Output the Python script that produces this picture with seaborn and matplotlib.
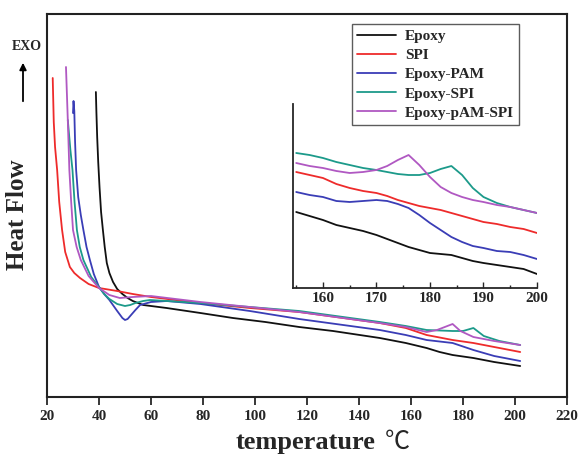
import numpy as np
import pandas as pd
import matplotlib
matplotlib.use('Agg')
import matplotlib.pyplot as plt
import seaborn as sns

# DSC heat flow curves (arbitrary units)
epoxy_t = [38.8, 39.0, 39.3, 39.7, 40.2, 40.8, 41.5, 42.2, 43, 44, 45.4, 47, 49, 51, 53, 57, 66, 79, 91.5, 104, 117, 130, 148, 158, 166, 171, 176, 184, 192, 202]
epoxy_y = [30.5, 28.5, 26.0, 23.5, 21.0, 18.5, 16.7, 15.0, 13.4, 12.4, 11.5, 10.8, 10.3, 9.9, 9.6, 9.2, 8.9, 8.4, 7.9, 7.5, 7.0, 6.6, 5.9, 5.4, 4.9, 4.5, 4.2, 3.9, 3.5, 3.1]

spi_t = [22.2, 22.6, 23.1, 23.9, 24.7, 25.8, 27, 28.8, 30.5, 32.7, 36, 40, 47, 53, 60, 79, 98, 117, 148, 158, 166, 176, 184, 192, 202]
spi_y = [31.9, 27.5, 25.0, 22.7, 19.5, 16.7, 14.5, 13.0, 12.4, 11.9, 11.3, 10.9, 10.6, 10.3, 10.0, 9.4, 8.9, 8.5, 7.4, 6.9, 6.2, 5.7, 5.4, 5.0, 4.5]

pam_t = [30.0, 30.2, 30.5, 30.8, 31.2, 32.0, 33.0, 34, 35.2, 36.5, 38, 40, 42, 44, 47, 49, 50, 51, 52, 54, 55.8, 60, 66, 79, 98, 117, 148, 158, 166, 176, 184, 192, 202]
pam_y = [28.4, 29.6, 28.6, 25.5, 22.7, 20.0, 18.2, 16.7, 15.0, 13.7, 12.3, 11.0, 10.3, 9.7, 8.6, 7.9, 7.7, 7.8, 8.1, 8.7, 9.2, 9.5, 9.6, 9.3, 8.6, 7.8, 6.7, 6.2, 5.7, 5.4, 4.7, 4.1, 3.6]

esp_t = [28.0, 29, 29.8, 30.6, 31.5, 32.6, 34, 37, 40, 42, 44, 47, 50, 52, 54, 57, 59.6, 79, 98, 117, 148, 158, 166, 176, 180, 184, 188, 194, 202]
esp_y = [27.7, 24.7, 22.7, 19.5, 16.7, 15.0, 13.7, 12.0, 11.0, 10.3, 9.8, 9.3, 9.1, 9.2, 9.4, 9.6, 9.7, 9.4, 9.0, 8.6, 7.5, 7.1, 6.7, 6.6, 6.6, 6.9, 6.1, 5.6, 5.2]

epa_t = [27.3, 28.0, 28.6, 29.3, 30, 31.4, 33, 36, 40, 44, 48, 53, 60, 79, 98, 117, 148, 158, 166, 170, 173, 176, 179, 184, 192, 202]
epa_y = [33.0, 27.7, 22.7, 19.5, 16.7, 15.0, 13.7, 12.1, 10.9, 10.2, 9.9, 10.0, 10.1, 9.5, 9.0, 8.5, 7.4, 7.0, 6.5, 6.7, 7.0, 7.3, 6.6, 6.0, 5.6, 5.2]

# zoomed region 155-200 C
inset_t = [155, 157.5, 160, 162.5, 165, 167.5, 170, 172, 174, 176, 178, 180, 182, 184, 186, 188, 190, 192.5, 195, 197.5, 200]
inset_epoxy = [7.6, 7.2, 6.8, 6.3, 6.0, 5.7, 5.3, 4.9, 4.5, 4.1, 3.8, 3.5, 3.4, 3.3, 3.0, 2.7, 2.5, 2.3, 2.1, 1.9, 1.4]
inset_spi = [11.6, 11.3, 11.0, 10.4, 10.0, 9.7, 9.5, 9.2, 8.8, 8.5, 8.2, 8.0, 7.8, 7.5, 7.2, 6.9, 6.6, 6.4, 6.1, 5.9, 5.5]
inset_pam = [9.6, 9.3, 9.1, 8.7, 8.6, 8.7, 8.8, 8.7, 8.4, 8.0, 7.3, 6.5, 5.8, 5.1, 4.6, 4.2, 4.0, 3.7, 3.6, 3.3, 2.9]
inset_esp = [13.5, 13.3, 13.0, 12.6, 12.3, 12.0, 11.8, 11.6, 11.4, 11.3, 11.3, 11.5, 11.9, 12.2, 11.3, 10.0, 9.1, 8.5, 8.1, 7.8, 7.5]
inset_epa = [12.5, 12.2, 12.0, 11.7, 11.5, 11.6, 11.8, 12.2, 12.8, 13.3, 12.3, 11.1, 10.1, 9.5, 9.1, 8.8, 8.6, 8.3, 8.1, 7.8, 7.5]

labels = ['Epoxy', 'SPI', 'Epoxy-PAM', 'Epoxy-SPI', 'Epoxy-pAM-SPI']
colors = ['#111111', '#ee2b2b', '#3a3db6', '#1c9a8a', '#b058c2']

sns.set_style('ticks')
plt.rcParams['font.family'] = ['Liberation Serif', 'Noto Sans CJK SC']
plt.rcParams['font.weight'] = 'bold'

fig = plt.figure(figsize=(5.82, 4.55), dpi=100)
ax = fig.add_axes([47/582, 1 - 397/455, 520/582, 383/455])

main_series = [(epoxy_t, epoxy_y), (spi_t, spi_y), (pam_t, pam_y), (esp_t, esp_y), (epa_t, epa_y)]
for (t, y), lab, c in zip(main_series, labels, colors):
    sns.lineplot(x=t, y=y, ax=ax, color=c, lw=1.3, label=lab, sort=False, estimator=None)

ax.set_xlim(20, 220)
ax.set_ylim(0, 38.3)
ax.set_xticks(np.arange(20, 221, 20))
ax.set_yticks([])
ax.tick_params(axis='x', direction='out', length=6, width=1.3, labelsize=11, pad=3)
for lbl in ax.get_xticklabels():
    lbl.set_fontweight('bold')
for sp in ax.spines.values():
    sp.set_linewidth(1.5)
    sp.set_color('#222222')

ax.set_xlabel('temperature', fontsize=19, fontweight='bold')
ax.xaxis.set_label_coords(0.497, -0.088)
fig.text(397/582, 1 - 449/455, '℃', ha='center', va='baseline', fontsize=18,
         fontweight='light', family=['Noto Sans CJK SC', 'DejaVu Sans'])
ax.set_ylabel('Heat Flow', fontsize=18, fontweight='bold')
ax.yaxis.set_label_coords(-0.034, 0.475)

leg = ax.legend(loc='upper right', bbox_to_anchor=(0.908, 0.974), borderaxespad=0,
                fontsize=11, frameon=True, fancybox=False, handlelength=2.5,
                borderpad=0.35, labelspacing=0.36, handletextpad=0.6)
leg.get_frame().set_edgecolor('#333333')
leg.get_frame().set_linewidth(1.0)
for txt in leg.get_texts():
    txt.set_fontweight('bold')

# EXO marker
fig.text(27/582, 1 - 47/455, 'EXO', ha='center', va='center', fontsize=10, fontweight='bold')
fig.patches.append(matplotlib.patches.FancyArrowPatch(
    (23/582, 1 - 104/455), (23/582, 1 - 60/455), transform=fig.transFigure,
    arrowstyle='-|>', mutation_scale=10, color='black', lw=1.3))

# inset
axin = fig.add_axes([293/582, 1 - 288/455, 244/582, 184/455])
inset_df = pd.DataFrame({'T': inset_t, 'Epoxy': inset_epoxy, 'SPI': inset_spi,
                         'Epoxy-PAM': inset_pam, 'Epoxy-SPI': inset_esp,
                         'Epoxy-pAM-SPI': inset_epa})
for lab, c in zip(labels, colors):
    sns.lineplot(data=inset_df, x='T', y=lab, ax=axin, color=c, lw=1.3)
axin.set_xlim(154.4, 200)
axin.set_ylim(0, 18.4)
axin.set_xticks([160, 170, 180, 190, 200])
axin.set_xticks([155, 165, 175, 185, 195], minor=True)
axin.set_yticks([])
axin.set_xlabel('')
axin.set_ylabel('')
axin.patch.set_alpha(0)
axin.spines['top'].set_visible(False)
axin.spines['right'].set_visible(False)
axin.spines['left'].set_linewidth(1.3)
axin.spines['bottom'].set_linewidth(1.3)
axin.tick_params(axis='x', which='major', direction='in', length=4, width=1.0, labelsize=11, pad=3)
axin.tick_params(axis='x', which='minor', direction='in', length=2, width=1.0)
for lbl in axin.get_xticklabels():
    lbl.set_fontweight('bold')

fig.savefig('out.png', dpi=100)
